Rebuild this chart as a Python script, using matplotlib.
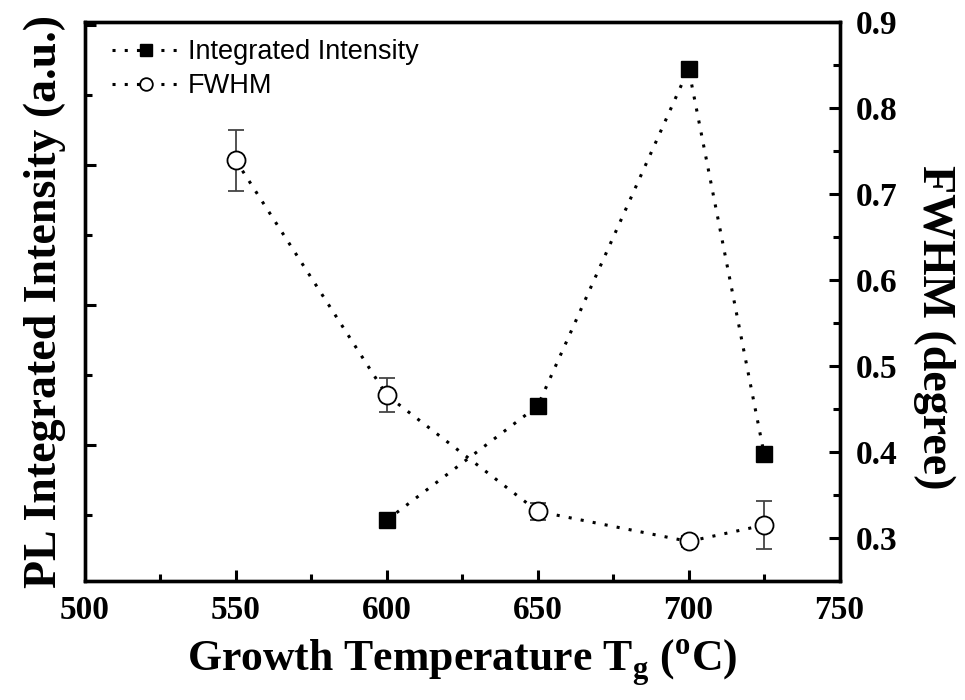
import numpy as np
import matplotlib
matplotlib.use("Agg")
import matplotlib.pyplot as plt
from matplotlib.ticker import MultipleLocator, NullFormatter, FormatStrFormatter

# growth temperature (C)
temp_int = [600, 650, 700, 725]
intensity = [0.464, 1.279, 3.686, 0.936]  # arbitrary units

temp_fwhm = [550, 600, 650, 700, 725]
fwhm = [0.739, 0.466, 0.331, 0.296, 0.315]
fwhm_err = [0.035, 0.020, 0.010, 0.006, 0.028]

serif = "Liberation Serif"
sans = "Liberation Sans"

fig = plt.figure(figsize=(9.65, 7.0), dpi=100)
ax = fig.add_axes([0.088, 0.17, 0.782, 0.7986])
ax2 = ax.twinx()

dots = (0, (1, 3))
l1, = ax.plot(temp_int, intensity, color="black", lw=2.2, ls=dots,
              marker="s", ms=12, mfc="black", mec="black", zorder=3)
eb = ax2.errorbar(temp_fwhm, fwhm, yerr=fwhm_err, color="black", lw=2.2, ls=dots,
                  marker="o", ms=13, mfc="white", mec="black", mew=1.3,
                  ecolor="#444444", elinewidth=1.3, capsize=6, capthick=1.3, zorder=3)

ax.set_xlim(500, 750)
ax.set_ylim(0.029, 4.021)
ax2.set_ylim(0.25, 0.9)

ax.xaxis.set_major_locator(MultipleLocator(50))
ax.xaxis.set_minor_locator(MultipleLocator(25))
ax.yaxis.set_major_locator(MultipleLocator(1))
ax.yaxis.set_minor_locator(MultipleLocator(0.5))
ax.yaxis.set_major_formatter(NullFormatter())
ax2.yaxis.set_major_locator(MultipleLocator(0.1))
ax2.yaxis.set_minor_locator(MultipleLocator(0.05))
ax2.yaxis.set_major_formatter(FormatStrFormatter("%.1f"))

for a in (ax, ax2):
    for s in a.spines.values():
        s.set_linewidth(2.4)
    a.tick_params(which="major", direction="in", length=8, width=2.2)
    a.tick_params(which="minor", direction="in", length=5, width=2.2)
ax.tick_params(axis="y", which="both", right=False)
ax.tick_params(axis="x", which="both", top=False, pad=10)
ax2.tick_params(axis="y", which="both", left=False, pad=12)

for lab in ax.get_xticklabels() + ax2.get_yticklabels():
    lab.set_fontfamily(serif)
    lab.set_fontweight("bold")
    lab.set_fontsize(24)

ax.set_xlabel(r"Growth Temperature T$_\mathregular{g}$ ($^\mathregular{o}$C)",
              family=serif, weight="bold", fontsize=31.5, labelpad=8)
ax.set_ylabel("PL Integrated Intensity (a.u.)", family=serif, weight="bold",
              fontsize=33, labelpad=10)
ax2.set_ylabel("FWHM (degree)", family=serif, weight="bold", fontsize=33,
               rotation=270, va="center", ha="center")
ax2.yaxis.set_label_coords(1.126, 0.454)

ax.legend([l1, eb[0]], ["Integrated Intensity", "FWHM"], loc="upper left",
          bbox_to_anchor=(0.0, 1.018), frameon=False,
          prop={"family": sans, "size": 19.5},
          handlelength=2.5, handletextpad=0.3, borderaxespad=0.6,
          labelspacing=0.3, markerscale=0.7)

fig.savefig("out.png", dpi=100)
